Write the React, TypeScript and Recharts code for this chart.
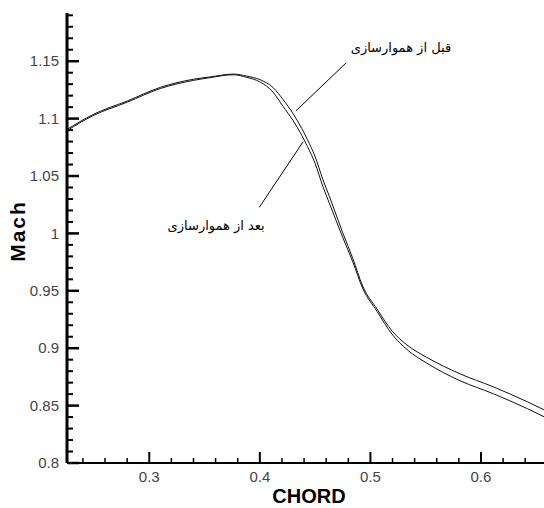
import { LineChart, Line, XAxis, YAxis, ReferenceLine, ReferenceDot } from "recharts";

// chord position along the airfoil
const chord = [
  0.2256, 0.249, 0.28, 0.31, 0.34, 0.355, 0.376, 0.388, 0.4, 0.412, 0.421, 0.43, 0.438, 0.443,
  0.45, 0.457, 0.463, 0.475, 0.484, 0.493, 0.506, 0.52, 0.533, 0.551, 0.581, 0.611, 0.642, 0.657,
];
// Mach before smoothing
const machBefore = [
  1.0905, 1.1035, 1.1153, 1.1272, 1.1343, 1.1363, 1.1388, 1.137, 1.134, 1.127, 1.1166, 1.1044,
  1.0913, 1.0818, 1.0669, 1.047, 1.032, 1.0005, 0.9784, 0.9542, 0.9341, 0.9146, 0.9029, 0.892,
  0.8777, 0.8664, 0.8533, 0.8463,
];
// Mach after smoothing
const machAfter = [
  1.0895, 1.1025, 1.1143, 1.1262, 1.1333, 1.1357, 1.1382, 1.136, 1.132, 1.123, 1.1106, 1.0984,
  1.0853, 1.0758, 1.0609, 1.041, 1.026, 0.9965, 0.9754, 0.9522, 0.9321, 0.9116, 0.8989, 0.887,
  0.8717, 0.8604, 0.8473, 0.8403,
];

const xMajorTicks = [0.3, 0.4, 0.5, 0.6];
const xTickLabels = ["0.3", "0.4", "0.5", "0.6"];
const yMajorTicks = [0.8, 0.85, 0.9, 0.95, 1, 1.05, 1.1, 1.15];
const yTickLabels = ["0.8", "0.85", "0.9", "0.95", "1", "1.05", "1.1", "1.15"];

const labelBefore = "قبل از هموارسازی";
const labelAfter = "بعد از هموارسازی";

// minor ticks every 0.02 on x and 0.01 on y
const xTicks = Array.from({ length: 21 }, (_, i) => +(0.24 + i * 0.02).toFixed(2));
const yTicks = Array.from({ length: 40 }, (_, i) => +(0.8 + i * 0.01).toFixed(2));

const data = chord.map((c, i) => ({ chord: c, before: machBefore[i], after: machAfter[i] }));

const W = 544;
const H = 508;
const AXIS_W = 67;
const AXIS_H = 45;
const TOP = 13;
const xDomain = [0.2256, 0.657];
const yDomain = [0.8, 1.192];
// data units per pixel, used to size the inward tick stubs
const xPerPx = (xDomain[1] - xDomain[0]) / (W - AXIS_W);
const yPerPx = (yDomain[1] - yDomain[0]) / (H - TOP - AXIS_H);

const tickFont = { fontFamily: "Liberation Sans, Arial, sans-serif", fontSize: 15, fill: "#444" };

const majorIndex = (list: number[], v: number) => list.findIndex((t) => Math.abs(t - v) < 1e-6);

function XTick(props: any) {
  const i = majorIndex(xMajorTicks, props.payload.value);
  if (i < 0) return <g />;
  return (
    <text x={props.x} y={Number(props.y) + 19} textAnchor="middle" {...tickFont}>
      {xTickLabels[i]}
    </text>
  );
}

function YTick(props: any) {
  const i = majorIndex(yMajorTicks, props.payload.value);
  if (i < 0) return <g />;
  return (
    <text x={Number(props.x) - 8} y={props.y} dy="0.35em" textAnchor="end" {...tickFont}>
      {yTickLabels[i]}
    </text>
  );
}

const persianLabel = (text: string) => ({
  value: text,
  position: "center" as const,
  fill: "#000",
  fontSize: 13,
  fontFamily: "DejaVu Sans",
});

export default function App() {
  return (
    <div style={{ position: "absolute", left: 0, top: 0, background: "#fff" }}>
      <LineChart width={W} height={H} data={data} margin={{ top: TOP, right: 0, left: 0, bottom: 0 }}>
        <XAxis
          dataKey="chord"
          type="number"
          domain={xDomain}
          allowDataOverflow
          ticks={xTicks}
          interval={0}
          tick={<XTick />}
          tickSize={0}
          tickMargin={0}
          tickLine={false}
          axisLine={{ stroke: "#000", strokeWidth: 2 }}
          height={AXIS_H}
          label={{
            content: ({ viewBox }: any) => (
              <text
                x={309}
                y={viewBox.y + 40}
                textAnchor="middle"
                fontFamily="Liberation Sans, Arial, sans-serif"
                fontWeight="bold"
                fontSize={20}
                fill="#000"
              >
                CHORD
              </text>
            ),
          }}
        />
        <YAxis
          type="number"
          domain={yDomain}
          allowDataOverflow
          ticks={yTicks}
          interval={0}
          tick={<YTick />}
          tickSize={0}
          tickMargin={0}
          tickLine={false}
          axisLine={{ stroke: "#000", strokeWidth: 3 }}
          width={AXIS_W}
          label={{
            content: ({ viewBox }: any) => (
              <text
                x={viewBox.x + 25}
                y={231}
                transform={`rotate(-90, ${viewBox.x + 25}, 231)`}
                textAnchor="middle"
                fontFamily="Liberation Sans, Arial, sans-serif"
                fontWeight="bold"
                fontSize={21}
                letterSpacing={2}
                fill="#000"
              >
                Mach
              </text>
            ),
          }}
        />
        {xTicks.map((v) => {
          const major = majorIndex(xMajorTicks, v) >= 0;
          return (
            <ReferenceLine
              key={`x${v}`}
              ifOverflow="visible"
              segment={[
                { x: v, y: yDomain[0] + 0.0005 },
                { x: v, y: yDomain[0] + (major ? 11 : 5) * yPerPx },
              ]}
              stroke="#000"
              strokeWidth={major ? 2 : 1.5}
            />
          );
        })}
        {yTicks.map((v) => {
          const major = majorIndex(yMajorTicks, v) >= 0;
          return (
            <ReferenceLine
              key={`y${v}`}
              ifOverflow="visible"
              segment={[
                { x: xDomain[0] + 0.0005, y: v },
                { x: xDomain[0] + (major ? 12 : 6) * xPerPx, y: v },
              ]}
              stroke="#000"
              strokeWidth={major ? 2.5 : 2}
            />
          );
        })}
        <Line type="monotone" dataKey="before" stroke="#111" strokeWidth={1} dot={false} isAnimationActive={false} />
        <Line type="monotone" dataKey="after" stroke="#111" strokeWidth={1} dot={false} isAnimationActive={false} />
        <ReferenceLine
          segment={[
            { x: 0.4781, y: 1.1486 },
            { x: 0.4326, y: 1.1067 },
          ]}
          stroke="#000"
          strokeWidth={1}
        />
        <ReferenceLine
          segment={[
            { x: 0.3995, y: 1.0227 },
            { x: 0.4392, y: 1.0799 },
          ]}
          stroke="#000"
          strokeWidth={1}
        />
        <ReferenceDot x={0.5276} y={1.1624} r={0} fill="none" stroke="none" label={persianLabel(labelBefore)} />
        <ReferenceDot x={0.3605} y={1.0071} r={0} fill="none" stroke="none" label={persianLabel(labelAfter)} />
      </LineChart>
    </div>
  );
}
